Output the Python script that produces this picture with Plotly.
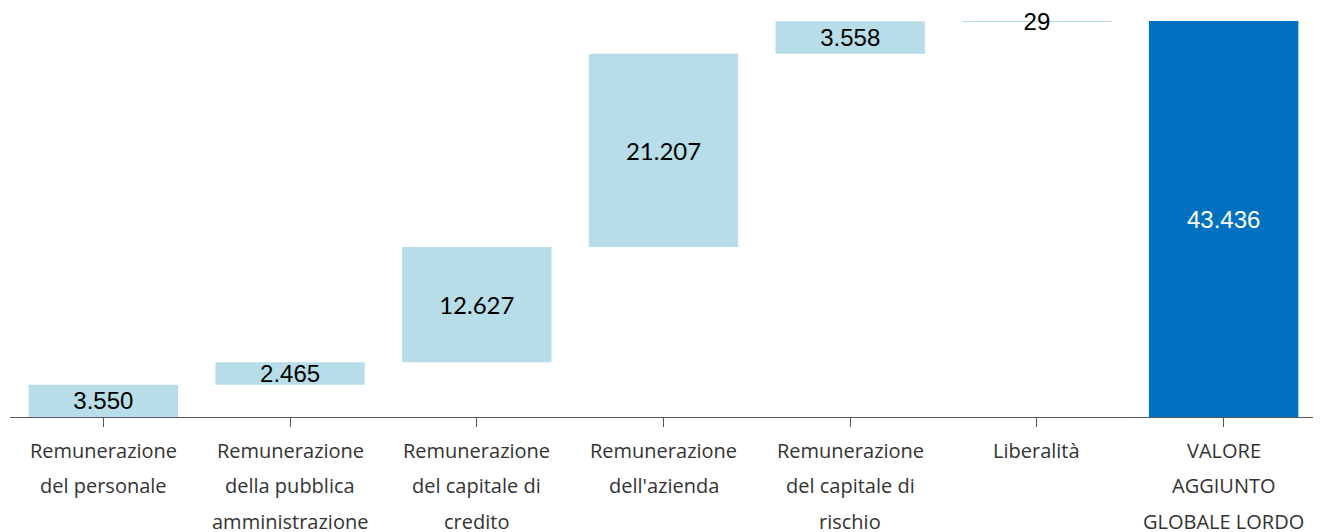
import plotly.graph_objects as go

categories = [
    "Remunerazione<br>del personale",
    "Remunerazione<br>della pubblica<br>amministrazione",
    "Remunerazione<br>del capitale di<br>credito",
    "Remunerazione<br>dell'azienda",
    "Remunerazione<br>del capitale di<br>rischio",
    "Liberalità",
    "VALORE<br>AGGIUNTO<br>GLOBALE LORDO",
]
values = [3550, 2465, 12627, 21207, 3558, 29, 43436]
measures = ["relative", "relative", "relative", "relative", "relative", "relative", "total"]

labels = [f"{v:,}".replace(",", ".") for v in values]
text_colors = ["#000000"] * 6 + ["#ffffff"]
text_fonts = ["Liberation Sans", "Liberation Sans", "Lato", "Lato",
              "Liberation Sans", "Liberation Sans", "Liberation Sans"]

# the page body has an 8px default margin, so margins are offset by 8px
fig = go.Figure()
fig.add_trace(go.Waterfall(
    x=list(range(len(categories))),
    y=values,
    measure=measures,
    text=labels,
    textposition="inside",
    insidetextanchor="middle",
    constraintext="none",
    textangle=0,
    textfont=dict(size=24, color=text_colors, family=text_fonts),
    increasing=dict(marker=dict(color="#b7dee8")),
    decreasing=dict(marker=dict(color="#b7dee8")),
    totals=dict(marker=dict(color="#0070c0")),
    connector=dict(visible=False),
    cliponaxis=False,
    hoverinfo="skip",
))

annotations = []
for i, cat in enumerate(categories):
    for j, line in enumerate(cat.split("<br>")):
        annotations.append(dict(
            x=i, y=0, xref="x", yref="y",
            text=line, showarrow=False,
            yanchor="middle", xanchor="center",
            yshift=-33 - j * 35.5,
            font=dict(family="Open Sans", size=20, color="#333333"),
        ))

fig.update_layout(
    width=1321, height=532,
    margin=dict(l=2, r=12, t=13, b=123),
    paper_bgcolor="white", plot_bgcolor="white",
    showlegend=False,
    bargap=0.229,
    annotations=annotations,
    xaxis=dict(
        range=[-0.5, len(categories) - 0.5],
        tickmode="array", tickvals=list(range(len(categories))),
        showticklabels=False,
        ticks="outside", tickson="boundaries", ticklen=9,
        tickcolor="#595959", showline=True, linecolor="#595959", linewidth=1,
        showgrid=False, zeroline=False,
    ),
    yaxis=dict(range=[0, 43436], visible=False, showgrid=False, zeroline=False),
)

fig.write_html("out.html")
